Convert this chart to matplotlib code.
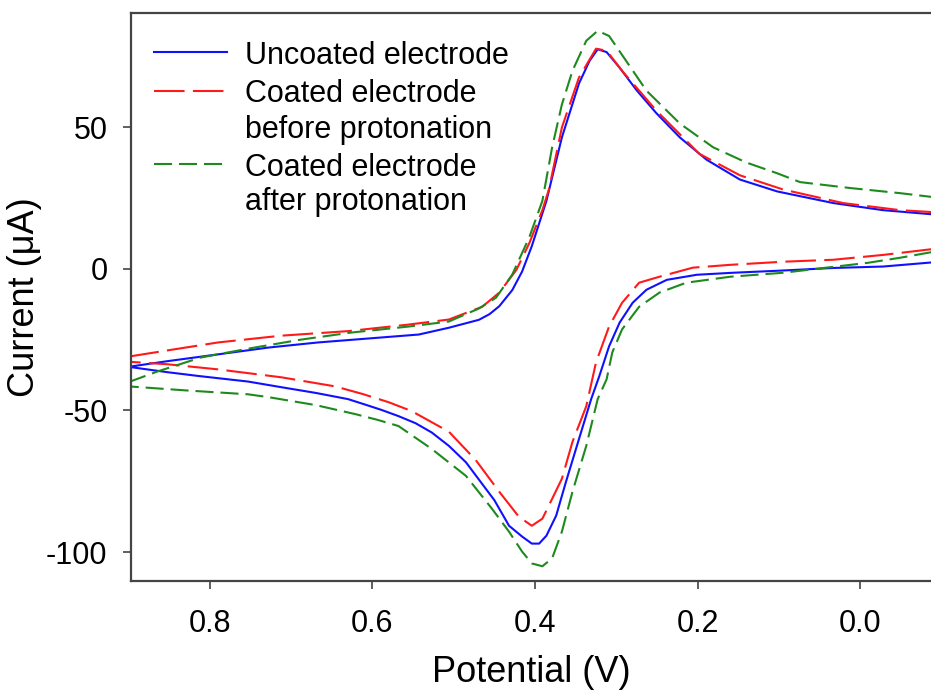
import matplotlib
matplotlib.use("Agg")
import matplotlib.pyplot as plt
from matplotlib.lines import Line2D

plt.rcParams['font.family'] = ['Liberation Sans', 'DejaVu Sans']
plt.rcParams['lines.scale_dashes'] = False
plt.rcParams['axes.unicode_minus'] = False

# potential (V) / current (uA)
# uncoated electrode
unc_fwd_v = [0.900, 0.852, 0.790, 0.728, 0.667, 0.605, 0.543, 0.506, 0.469, 0.456, 0.444, 0.428,
             0.416, 0.404, 0.386, 0.367, 0.346, 0.333, 0.323, 0.312, 0.296, 0.275, 0.251, 0.222,
             0.189, 0.148, 0.102, 0.033, -0.028, -0.090]
unc_fwd_i = [-34.6, -32.6, -30.2, -27.8, -26.0, -24.6, -23.2, -20.8, -18.0, -16.0, -13.2, -7.5,
             -1.0, 8.0, 24.0, 46.4, 65.4, 73.4, 77.5, 76.5, 71.0, 63.0, 55.0, 46.4,
             38.5, 31.5, 27.3, 23.2, 20.7, 19.2]
unc_rev_v = [-0.090, -0.028, 0.033, 0.095, 0.157, 0.201, 0.238, 0.263, 0.280, 0.296, 0.309, 0.321,
             0.331, 0.346, 0.362, 0.374, 0.386, 0.395, 0.404, 0.416, 0.432, 0.450, 0.485, 0.506,
             0.527, 0.547, 0.568, 0.589, 0.605, 0.630, 0.670, 0.712, 0.753, 0.815, 0.852, 0.900]
unc_rev_i = [2.3, 0.8, 0.3, -0.6, -1.4, -2.1, -3.9, -7.4, -12.0, -19.0, -27.4, -37.9,
             -46.0, -60.1, -75.2, -87.1, -94.2, -97.0, -97.0, -94.5, -90.7, -81.7, -68.3, -62.5,
             -57.8, -54.5, -52.0, -49.8, -48.3, -46.0, -43.8, -41.8, -39.8, -37.8, -36.5, -34.6]

# coated electrode before protonation
pre_fwd_v = [0.900, 0.852, 0.790, 0.712, 0.630, 0.556, 0.506, 0.465, 0.444, 0.423, 0.407, 0.391,
             0.383, 0.367, 0.346, 0.325, 0.312, 0.293, 0.251, 0.198, 0.148, 0.095, 0.021, -0.049,
             -0.090]
pre_fwd_i = [-31.0, -28.8, -26.0, -23.6, -22.0, -19.7, -17.9, -13.4, -8.4, -0.4, 9.1, 20.7,
             28.0, 49.9, 67.5, 77.7, 77.0, 69.9, 55.9, 40.6, 33.0, 28.0, 23.2, 20.7,
             20.0]
pre_rev_v = [-0.090, -0.028, 0.033, 0.095, 0.160, 0.206, 0.247, 0.272, 0.293, 0.309, 0.325, 0.337,
             0.354, 0.367, 0.379, 0.391, 0.404, 0.420, 0.444, 0.473, 0.506, 0.552, 0.580, 0.612,
             0.646, 0.712, 0.790, 0.852, 0.900]
pre_rev_i = [7.0, 4.9, 3.2, 2.5, 1.4, 0.4, -2.8, -4.9, -12.0, -20.4, -33.0, -48.5,
             -61.1, -74.1, -81.2, -88.2, -90.7, -87.5, -78.7, -67.5, -57.5, -50.2, -47.1, -44.2,
             -41.5, -38.3, -35.5, -33.7, -32.8]

# coated electrode after protonation
post_fwd_v = [0.900, 0.864, 0.811, 0.749, 0.688, 0.626, 0.556, 0.506, 0.469, 0.448, 0.428, 0.407,
              0.391, 0.379, 0.367, 0.354, 0.337, 0.323, 0.309, 0.288, 0.263, 0.222, 0.181, 0.140,
              0.102, 0.074, 0.012, -0.049, -0.090]
post_fwd_i = [-40.0, -36.2, -31.3, -28.0, -25.0, -22.5, -20.4, -18.6, -14.0, -10.2, -2.0, 11.2,
              24.0, 42.9, 58.0, 69.9, 80.5, 84.0, 82.2, 73.4, 62.9, 51.3, 42.9, 37.5,
              33.7, 30.6, 28.5, 26.7, 25.3]
post_rev_v = [-0.090, -0.049, -0.009, 0.033, 0.095, 0.160, 0.214, 0.247, 0.272, 0.293, 0.305, 0.312,
              0.323, 0.337, 0.354, 0.367, 0.379, 0.391, 0.404, 0.416, 0.432, 0.453, 0.485, 0.527,
              0.568, 0.594, 0.621, 0.670, 0.728, 0.753, 0.831, 0.900]
post_rev_i = [6.0, 3.9, 2.1, 0.7, -1.4, -2.8, -4.9, -8.4, -13.4, -21.4, -29.5, -39.0,
              -46.0, -62.5, -78.7, -92.8, -102.2, -105.0, -104.0, -99.8, -92.8, -84.7, -73.1, -63.6,
              -55.5, -53.3, -51.3, -48.1, -45.3, -44.3, -42.9, -41.5]

labels = [["Uncoated electrode"],
          ["Coated electrode", "before protonation"],
          ["Coated electrode", "after protonation"]]
colors = ["#1010ff", "#ff1a1a", "#1e8a1e"]
dashes = [None, (22, 6), (13, 5)]

fig = plt.figure(figsize=(9.31, 6.91), dpi=100)
ax = fig.add_axes([0.1407, 0.1592, 0.8593, 0.822])

curves = [(unc_fwd_v + unc_rev_v, unc_fwd_i + unc_rev_i),
          (pre_fwd_v + pre_rev_v, pre_fwd_i + pre_rev_i),
          (post_fwd_v + post_rev_v, post_fwd_i + post_rev_i)]
for (v, i), c, d in zip(curves, colors, dashes):
    ln, = ax.plot(v, i, color=c, lw=1.5)
    if d is not None:
        ln.set_dashes(d)

ax.set_xlim(0.897, -0.087)
ax.set_ylim(-110.2, 90.3)
ax.set_xticks([0.8, 0.6, 0.4, 0.2, 0.0])
ax.set_xticklabels(["0.8", "0.6", "0.4", "0.2", "0.0"])
ax.set_yticks([-100, -50, 0, 50])

for s in ["left", "top", "bottom"]:
    ax.spines[s].set_color("#444444")
    ax.spines[s].set_linewidth(1.6)
ax.spines["right"].set_visible(False)
ax.tick_params(axis="both", direction="out", length=6, width=1.2, color="#444444",
               labelsize=22)
ax.tick_params(axis="x", pad=14)
ax.tick_params(axis="y", pad=11)

ax.set_xlabel("Potential (V)", fontsize=26, labelpad=12)
ax.set_ylabel("Current (\u03bcA)", fontsize=26, labelpad=3)

# legend drawn by hand: handle sits on the first text line
rows = [[0.931], [0.863, 0.801], [0.734, 0.673]]
for lab, ys, c, d in zip(labels, rows, colors, dashes):
    h = Line2D([0.029, 0.12], [ys[0], ys[0]], transform=ax.transAxes, color=c, lw=1.5)
    if d is not None:
        h.set_dashes(d)
    ax.add_line(h)
    for txt, y in zip(lab, ys):
        ax.text(0.1425, y, txt, transform=ax.transAxes, fontsize=22,
                va="center_baseline", ha="left")

fig.savefig("out.png", dpi=100)
